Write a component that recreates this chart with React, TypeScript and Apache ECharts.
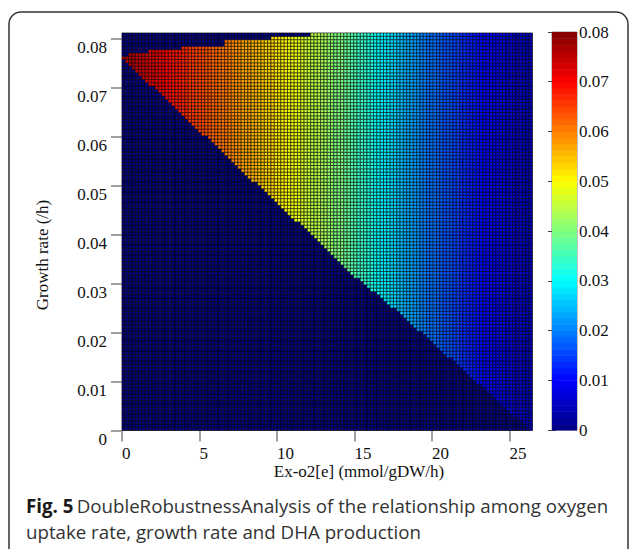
import React, { useEffect, useRef } from 'react';
import * as echarts from 'echarts';

// ---- data ----
const oxygenStep = 0.5; // DHA profile sampled every 0.5 mmol/gDW/h
const dhaByOxygen = [
  0.0775, 0.0762, 0.0749, 0.0737, 0.0724, 0.0711, 0.0698, 0.0686, 0.0673, 0.066,
  0.0647, 0.0635, 0.0622, 0.0609, 0.0596, 0.0584, 0.0571, 0.0558, 0.0545, 0.0533,
  0.052, 0.0507, 0.049, 0.0475, 0.046, 0.0445, 0.043, 0.0415, 0.04, 0.0381,
  0.0362, 0.0342, 0.0323, 0.0304, 0.0286, 0.0269, 0.0252, 0.0235, 0.0218, 0.0201,
  0.0187, 0.0174, 0.0161, 0.0148, 0.0135, 0.0121, 0.0107, 0.0095, 0.0085, 0.0075,
  0.0066, 0.0058, 0.005, 0.0044,
];
// lower feasibility boundary (diagonal)
const minGrowthOxygen = [0, 3.5, 6.6, 10.25, 12.8, 14.9, 18.0, 20.6, 23.2, 26.3, 26.5];
const minGrowthRate = [0.0762, 0.0662, 0.0567, 0.0462, 0.0385, 0.0322, 0.0241, 0.0168, 0.0094, 0.0005, 0.0];
// upper feasibility boundary (staircase at the top)
const maxGrowthOxygenEdges = [0.5, 1.8, 3.95, 6.66, 9.6, 12.2];
const maxGrowthRate = [0.0762, 0.0773, 0.078, 0.0787, 0.0797, 0.0805, 0.0813];

const nColumns = 124;
const nRows = 120;
const oxygenMax = 26.48;
const growthMax = 0.0812;

const xTicks = [0, 5, 10, 15, 20, 25];
const yTicks = [0, 0.01, 0.02, 0.03, 0.04, 0.05, 0.06, 0.07, 0.08];
const colorbarLevels = 64;

const jet = ['#000080', '#0000ff', '#0080ff', '#00ffff', '#80ff80', '#ffff00', '#ff8000', '#ff0000', '#800000'];

function lowerBoundary(x: number) {
  for (let i = 0; i < minGrowthOxygen.length - 1; i++) {
    const x0 = minGrowthOxygen[i], x1 = minGrowthOxygen[i + 1];
    if (x >= x0 && x <= x1) {
      const t = (x - x0) / (x1 - x0);
      return minGrowthRate[i] + t * (minGrowthRate[i + 1] - minGrowthRate[i]);
    }
  }
  return 0;
}
function upperBoundary(x: number) {
  let k = 0;
  while (k < maxGrowthOxygenEdges.length && x >= maxGrowthOxygenEdges[k]) k++;
  return maxGrowthRate[k];
}

const dx = oxygenMax / nColumns;
const dy = growthMax / nRows;
const cells: number[][] = [];
for (let c = 0; c < nColumns; c++) {
  const xc = (c + 0.5) * dx;
  const idx = Math.min(dhaByOxygen.length - 1, Math.round(xc / oxygenStep));
  const lo = lowerBoundary(xc);
  const hi = upperBoundary(xc);
  for (let r = 0; r < nRows; r++) {
    const yc = (r + 0.5) * dy;
    const feasible = yc + dy * 0.5 > lo && yc <= hi;
    cells.push([xc, yc, feasible ? dhaByOxygen[idx] : 0]);
  }
}
const barStep = 0.08 / colorbarLevels;
const colorbarData: number[][] = [];
for (let i = 0; i < colorbarLevels; i++) {
  colorbarData.push([0.5, (i + 0.5) * barStep, (i + 0.5) * barStep]);
}

const serif = 'Liberation Serif';
const sans = 'Open Sans';

export default function App() {
  const ref = useRef<HTMLDivElement>(null);
  useEffect(() => {
    if (!ref.current) return;
    const chart = echarts.init(ref.current, undefined, { renderer: 'svg' });
    chart.setOption({
      animation: false,
      backgroundColor: '#ffffff',
      grid: [
        { left: 122, top: 33, width: 410.5, height: 397.5, show: true, borderColor: '#c4c4c4', borderWidth: 1 },
        { left: 552, top: 32, width: 25, height: 398, show: true, borderColor: '#8a8a8a', borderWidth: 1 },
      ],
      xAxis: [
        {
          type: 'value', gridIndex: 0, min: 0, max: oxygenMax,
          axisLine: { show: true, lineStyle: { color: '#b0b0b0', width: 1 } },
          axisTick: { show: true, customValues: xTicks, length: 11, lineStyle: { color: '#a0a0a0', width: 2 } },
          axisLabel: { customValues: xTicks, align: 'left', margin: 14, fontFamily: serif, fontSize: 17, color: '#111' },
          splitLine: { show: false },
        },
        { type: 'value', gridIndex: 1, min: 0, max: 1, show: false },
      ],
      yAxis: [
        {
          type: 'value', gridIndex: 0, min: 0, max: growthMax,
          axisLine: { show: true, lineStyle: { color: '#b0b0b0', width: 1 } },
          axisTick: { show: true, customValues: yTicks, length: 11, lineStyle: { color: '#a0a0a0', width: 2 } },
          axisLabel: {
            customValues: yTicks, verticalAlign: 'top', margin: 15, fontFamily: serif, fontSize: 17, color: '#111',
            formatter: (v: number) => (v === 0 ? '0' : v.toFixed(2)),
          },
          splitLine: { show: false },
        },
        {
          type: 'value', gridIndex: 1, position: 'right', min: 0, max: 0.08, interval: 0.01,
          axisLine: { show: false },
          axisTick: { show: true, inside: true, length: 4, lineStyle: { color: '#444', width: 1 } },
          axisLabel: { margin: 2, fontFamily: serif, fontSize: 17, color: '#111', formatter: (v: number) => (v === 0 ? '0' : v.toFixed(2)) },
          splitLine: { show: false },
        },
        {
          type: 'value', gridIndex: 1, position: 'left', min: 0, max: 0.08, interval: 0.01,
          axisLine: { show: false },
          axisTick: { show: true, inside: true, length: 4, lineStyle: { color: '#444', width: 1 } },
          axisLabel: { show: false },
          splitLine: { show: false },
        },
      ],
      visualMap: {
        type: 'continuous', min: 0, max: 0.08, dimension: 2, seriesIndex: [0, 1], show: false,
        inRange: { color: jet },
      },
      series: [
        {
          type: 'custom', xAxisIndex: 0, yAxisIndex: 0, data: cells,
          progressive: 0, progressiveThreshold: 1000000,
          dimensions: ['x', 'y', 'v'], encode: { x: 0, y: 1 },
          renderItem: (params: any, api: any) => {
            const x = api.value(0), y = api.value(1);
            const p0 = api.coord([x - dx / 2, y + dy / 2]);
            const p1 = api.coord([x + dx / 2, y - dy / 2]);
            return {
              type: 'rect',
              shape: { x: p0[0], y: p0[1], width: p1[0] - p0[0], height: p1[1] - p0[1] },
              style: { fill: api.visual('color'), stroke: 'rgba(0,0,0,0.85)', lineWidth: 0.65 },
            };
          },
        },
        {
          type: 'custom', xAxisIndex: 1, yAxisIndex: 1, data: colorbarData,
          dimensions: ['x', 'y', 'v'], encode: { x: 0, y: 1 },
          renderItem: (params: any, api: any) => {
            const y = api.value(1);
            const p0 = api.coord([0, y + barStep / 2]);
            const p1 = api.coord([1, y - barStep / 2]);
            return {
              type: 'rect',
              shape: { x: p0[0], y: p0[1], width: p1[0] - p0[0], height: p1[1] - p0[1] + 0.5 },
              style: { fill: api.visual('color') },
            };
          },
        },
      ],
      graphic: [
        {
          type: 'rect', shape: { x: 9, y: 12, width: 619, height: 620, r: 12 },
          style: { fill: 'none', stroke: '#333', lineWidth: 1.5 }, z: 100,
        },
        {
          type: 'text', x: 42, y: 255, rotation: Math.PI / 2,
          style: { text: 'Growth rate (/h)', font: `17px "${serif}"`, fill: '#111', align: 'center', verticalAlign: 'middle' },
        },
        {
          type: 'text', x: 359, y: 471,
          style: { text: 'Ex-o2[e] (mmol/gDW/h)', font: `17px "${serif}"`, fill: '#111', align: 'center', verticalAlign: 'middle' },
        },
        {
          type: 'text', x: 26, y: 505,
          style: {
            text: '{b|Fig. 5} {r|DoubleRobustnessAnalysis of the relationship among oxygen}',
            verticalAlign: 'middle',
            rich: {
              b: { fontFamily: sans, fontWeight: 'bold', fontSize: 18.7, fill: '#1a1a1a' },
              r: { fontFamily: sans, fontSize: 18.7, fill: '#333' },
            },
          },
        },
        {
          type: 'text', x: 26, y: 531,
          style: { text: 'uptake rate, growth rate and DHA production', font: `18.7px "${sans}"`, fill: '#333', verticalAlign: 'middle' },
        },
      ],
    });
    return () => chart.dispose();
  }, []);
  return <div ref={ref} style={{ position: 'fixed', left: 0, top: 0, width: 629, height: 549 }} />;
}
